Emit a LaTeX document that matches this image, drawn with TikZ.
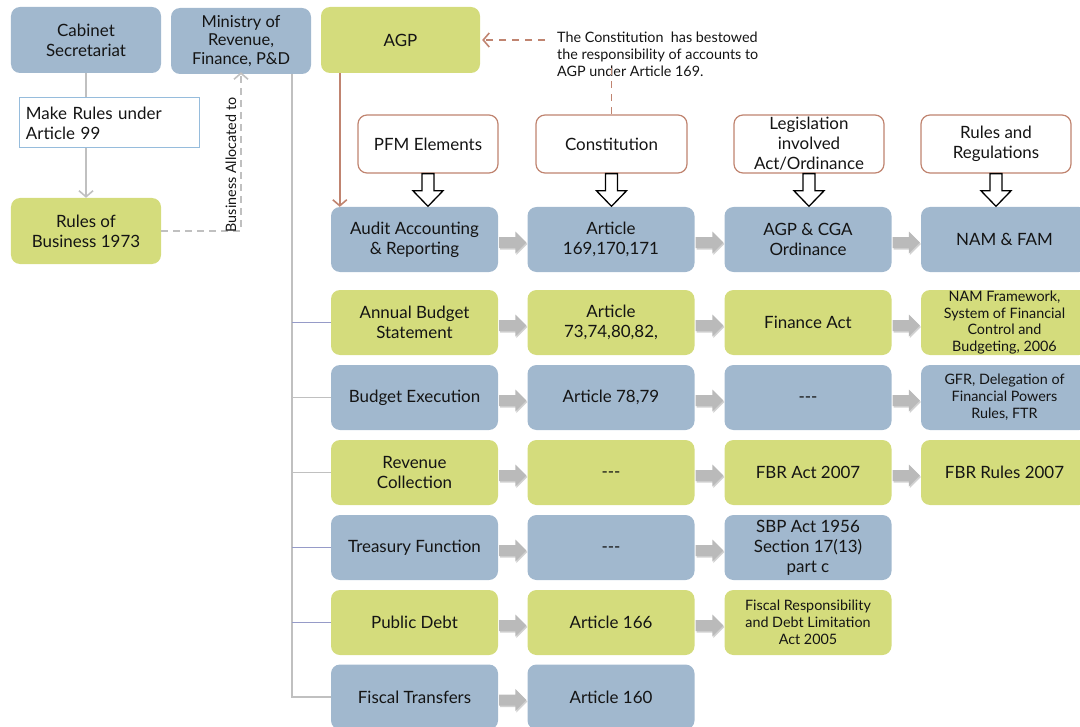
\documentclass[tikz,border=0pt]{standalone}
\usepackage{fontspec}
\setmainfont{Lato}
\usetikzlibrary{calc,arrows.meta}
\definecolor{boxblue}{RGB}{161,184,206}
\definecolor{boxgreen}{RGB}{212,220,124}
\definecolor{brownc}{RGB}{192,132,112}
\definecolor{linegrey}{RGB}{192,192,192}
\definecolor{branchblue}{RGB}{150,155,200}
\definecolor{rulesblue}{RGB}{150,188,220}
\definecolor{txt}{RGB}{20,20,20}
\newcommand\greyarr[2]{%
  \fill[black!40, opacity=0.45] let \p1=(#1.east), \p2=(#2.west), \n1={\y1-4.5bp} in
    (\x1+2bp,\n1-5.5bp) -- (\x2-11bp,\n1-5.5bp) -- (\x2-11bp,\n1-11bp) -- (\x2,\n1) --
    (\x2-11bp,\n1+11bp) -- (\x2-11bp,\n1+5.5bp) -- (\x1+2bp,\n1+5.5bp) -- cycle;
  \fill[greyarrowfill] let \p1=(#1.east), \p2=(#2.west), \n1={\y1-3bp} in
    (\x1+1bp,\n1-5.5bp) -- (\x2-12bp,\n1-5.5bp) -- (\x2-12bp,\n1-11bp) -- (\x2-1bp,\n1) --
    (\x2-12bp,\n1+11bp) -- (\x2-12bp,\n1+5.5bp) -- (\x1+1bp,\n1+5.5bp) -- cycle;
}
\newcommand\hollowarr[2]{%
  \filldraw[fill=white, draw=black, line width=1.3bp, line join=miter] let \p1=(#1.south), \p2=(#1.south |- #2.north) in
    (\x1-6bp,\y1) -- (\x1-6bp,\y2+16bp) -- (\x1-15bp,\y2+16bp) -- (\x1,\y2+0.5bp) --
    (\x1+15bp,\y2+16bp) -- (\x1+6bp,\y2+16bp) -- (\x1+6bp,\y1) -- cycle;
}
\newcommand\tripledash{\raisebox{-4.8bp}[0pt][0pt]{-{}-{}-}}
\begin{document}
\begin{tikzpicture}[x=1bp,y=-1bp,
  base/.style={rounded corners=9bp, inner sep=0pt, align=center, text=txt, font=\fontsize{17}{20}\selectfont},
  bluebox/.style={base, fill=boxblue},
  greenbox/.style={base, fill=boxgreen},
  cell/.style={minimum width=167bp, minimum height=65bp},
  small/.style={font=\fontsize{14.4}{17}\selectfont},
  header/.style={base, fill=white, draw=brownc, line width=1.2bp, minimum width=150bp, minimum height=58bp},
  greyarrowfill/.style={fill=black!27},
  greyline/.style={draw=linegrey, line width=1.8bp},
  greytip/.style={-{Straight Barb[length=6bp,width=14bp,line width=1.6bp]}},
  branchb/.style={draw=branchblue, line width=1bp},
  branchg/.style={draw=linegrey, line width=1.5bp},
  brownline/.style={draw=brownc, line width=1.8bp},
  browntip/.style={-{Straight Barb[length=6bp,width=14bp,line width=1.6bp]}},
]
\useasboundingbox (0,0) rectangle (1080,727);

% top-left nodes
\node[bluebox, minimum width=150bp, minimum height=66bp] (cab) at (86,40) {Cabinet\\Secretariat};
\node[bluebox, minimum width=140bp, minimum height=66bp, font=\fontsize{16.5}{18.5}\selectfont] (min) at (241,41) {Ministry of\\Revenue,\\Finance, P\&D};
\node[greenbox, minimum width=159bp, minimum height=66bp] (agp) at (400.5,40) {AGP};
\node[base, rounded corners=0pt, fill=white, draw=rulesblue, line width=1bp, minimum width=179bp, minimum height=50bp, text width=167bp, align=left] (make) at (109.5,123) {Make Rules under\\Article 99};
\node[greenbox, minimum width=150bp, minimum height=66bp] (rob) at (86,231) {Rules of\\Business 1973};

% note
\node[base, small, anchor=west, align=left] (note) at (557,54) {The Constitution\ \ has bestowed\\the responsibility of accounts to\\AGP under Article 169.};

% headers
\node[header, minimum width=140bp] (h1) at (428,144) {PFM Elements};
\node[header, minimum width=151bp] (h2) at (611.5,144) {Constitution};
\node[header] (h3) at (809,144) {Legislation\\involved\\Act/Ordinance};
\node[header] (h4) at (996,144) {Rules and\\Regulations};

% grid cells
\node[bluebox,cell] (a1) at (414.5,239.5) {Audit Accounting\\\& Reporting};
\node[bluebox,cell] (b1) at (611,239.5) {Article\\169,170,171};
\node[bluebox,cell] (c1) at (808,239.5) {AGP \& CGA\\Ordinance};
\node[bluebox,cell] (d1) at (1004.5,239.5) {NAM \& FAM};

\node[greenbox,cell] (a2) at (414.5,322.5) {Annual Budget\\Statement};
\node[greenbox,cell] (b2) at (611,322.5) {Article\\73,74,80,82,};
\node[greenbox,cell] (c2) at (808,322.5) {Finance Act};
\node[greenbox,cell,small] (d2) at (1004.5,322.5) {NAM Framework,\\System of Financial\\Control and\\Budgeting, 2006};

\node[bluebox,cell] (a3) at (414.5,397.5) {Budget Execution};
\node[bluebox,cell] (b3) at (611,397.5) {Article 78,79};
\node[bluebox,cell] (c3) at (808,397.5) {\tripledash};
\node[bluebox,cell,small] (d3) at (1004.5,397.5) {GFR, Delegation of\\Financial Powers\\Rules, FTR};

\node[greenbox,cell] (a4) at (414.5,472.5) {Revenue\\Collection};
\node[greenbox,cell] (b4) at (611,472.5) {\tripledash};
\node[greenbox,cell] (c4) at (808,472.5) {FBR Act 2007};
\node[greenbox,cell] (d4) at (1004.5,472.5) {FBR Rules 2007};

\node[bluebox,cell] (a5) at (414.5,547.5) {Treasury Function};
\node[bluebox,cell] (b5) at (611,547.5) {\tripledash};
\node[bluebox,cell] (c5) at (808,547.5) {SBP Act 1956\\Section 17(13)\\part c};

\node[greenbox,cell] (a6) at (414.5,622.5) {Public Debt};
\node[greenbox,cell] (b6) at (611,622.5) {Article 166};
\node[greenbox,cell,small] (c6) at (808,622.5) {Fiscal Responsibility\\and Debt Limitation\\Act 2005};

\node[bluebox,cell] (a7) at (414.5,697) {Fiscal Transfers};
\node[bluebox,cell] (b7) at (611,697) {Article 160};

% hollow arrows
\hollowarr{h1}{a1}
\hollowarr{h2}{b1}
\hollowarr{h3}{c1}
\hollowarr{h4}{d1}

% grey block arrows
\foreach \r in {1,2,3,4} {
  \greyarr{a\r}{b\r}
  \greyarr{b\r}{c\r}
  \greyarr{c\r}{d\r}
}
\foreach \r in {5,6} {
  \greyarr{a\r}{b\r}
  \greyarr{b\r}{c\r}
}
\greyarr{a7}{b7}

% left connectors
\draw[greyline] (cab.south) -- (cab.south |- make.north);
\draw[greyline, greytip] (cab.south |- make.south) -- (rob.north);
\draw[greyline, dashed, dash pattern=on 7bp off 5bp, greytip] (rob.east) -| ([yshift=2bp]min.south);
\node[base, small, rotate=90] (lbl) at (231,165) {Business Allocated to};

% trunk from ministry
\coordinate (t0) at (292,74);
\draw[branchg] (t0) |- (a7.west);
\draw[branchb] (t0 |- a2.west) -- (a2.west);
\draw[branchg] (t0 |- a3.west) -- (a3.west);
\draw[branchg] (t0 |- a4.west) -- (a4.west);
\draw[branchb] (t0 |- a5.west) -- (a5.west);
\draw[branchb] (t0 |- a6.west) -- (a6.west);

% AGP to audit
\draw[brownline, browntip] ([xshift=19bp]agp.south west) -- ([xshift=19bp]agp.south west |- a1.north);

% note connectors
\draw[brownline, dashed, dash pattern=on 7bp off 6bp, browntip] ([xshift=-12bp]note.west |- agp.east) -- ([xshift=2bp]agp.east);
\draw[brownline, dashed, dash pattern=on 7bp off 6bp] ([yshift=8bp]h2.north |- note.south) -- (h2.north);
\end{tikzpicture}
\end{document}
